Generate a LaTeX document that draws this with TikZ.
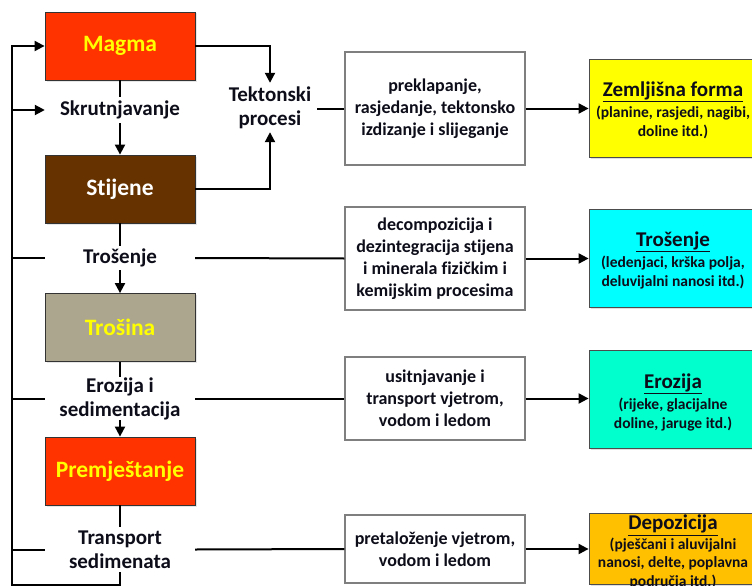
\documentclass[tikz,border=0pt]{standalone}
\usepackage{fontspec}
\setmainfont{Carlito}[Ligatures=NoCommon]
\usetikzlibrary{arrows.meta,shadows}
\definecolor{magmared}{HTML}{FF3300}
\definecolor{rockbrown}{HTML}{663300}
\definecolor{wastegray}{HTML}{ADA68F}
\definecolor{formyellow}{HTML}{FFFF00}
\definecolor{wearcyan}{HTML}{00FFFF}
\definecolor{erosiongreen}{HTML}{00FFCC}
\definecolor{depoamber}{HTML}{FFC000}
\definecolor{framegray}{HTML}{7F7F7F}
\definecolor{ink}{HTML}{0D0D1A}
\begin{document}
\begin{tikzpicture}[x=1pt,y=-1pt,
  stage/.style={draw=black!80,line width=0.8pt,minimum width=150pt,minimum height=68pt,inner sep=0pt,
    font=\fontsize{23.5}{28}\selectfont\bfseries,
    drop shadow={shadow xshift=1.5pt,shadow yshift=-1.5pt,opacity=0.2}},
  lbl/.style={minimum width=150pt,inner sep=0pt,align=center,text=ink,
    font=\fontsize{21}{24}\selectfont\bfseries},
  proc/.style={draw=framegray,line width=1.2pt,fill=white,minimum width=180pt,inner sep=0pt,
    align=center,text=ink,font=\fontsize{18}{22}\selectfont\bfseries},
  result/.style={draw=black!70,line width=0.8pt,minimum width=168pt,minimum height=98pt,inner sep=0pt,
    drop shadow={shadow xshift=2pt,shadow yshift=-2pt,opacity=0.25}},
  restext/.style={align=center,inner sep=0pt,text=ink,font=\fontsize{15.5}{18.5}\selectfont\bfseries},
  link/.style={line width=2pt},
  arr/.style={line width=2pt,-{Triangle[length=10pt,width=10pt]}}]
\useasboundingbox (0,0) rectangle (752,586);
\clip (0,0) rectangle (752,586);

\node[stage,fill=magmared,text=formyellow] (magma) at (120,46) {Magma};
\node[stage,fill=rockbrown,text=white] (stijene) at (120,189) {Stijene};
\node[stage,fill=wastegray,text=formyellow] (trosina) at (120,327.5) {Trošina};
\node[stage,fill=magmared,text=formyellow] (premjest) at (120,471) {Premještanje};

\node[lbl,minimum height=26pt] (skrut) at (120,110) {Skrutnjavanje};
\node[lbl,minimum height=24pt] (trosenje) at (120,258) {Trošenje};
\node[lbl,minimum height=43pt] (erozija) at (120,398.5) {Erozija i\\sedimentacija};
\node[lbl,minimum height=45pt] (transport) at (120,549.5) {Transport\\sedimenata};
\node[lbl,minimum width=0pt,inner xsep=6pt,minimum height=49pt] (tekt) at (270,107.5) {Tektonski\\procesi};

\node[proc,minimum height=113pt] (proc1) at (435,108.5) {preklapanje,\\rasjedanje, tektonsko\\izdizanje i slijeganje};
\node[proc,minimum height=103pt] (proc2) at (435,258.5) {decompozicija i\\dezintegracija stijena\\i minerala fizičkim i\\kemijskim procesima};
\node[proc,minimum height=83pt] (proc3) at (435,398.5) {usitnjavanje i\\transport vjetrom,\\vodom i ledom};
\node[proc,minimum height=68pt] (proc4) at (435,549) {pretaloženje vjetrom,\\vodom i ledom};

\node[result,fill=formyellow] (zforma) at (673,108) {};
\node[result,fill=wearcyan] (rtrosenje) at (673,258) {};
\node[result,fill=erosiongreen] (rerozija) at (673,399) {};
\node[result,fill=depoamber,minimum height=71pt] (rdepozicija) at (673,548.5) {};
\node[restext] (zformaT) at (673,110) {{\fontsize{21}{23}\selectfont\underline{Zemljišna forma}}\\[3pt](planine, rasjedi, nagibi,\\doline itd.)};
\node[restext] (rtrosenjeT) at (673,260) {{\fontsize{21}{23}\selectfont\underline{Trošenje}}\\[3pt](ledenjaci, krška polja,\\deluvijalni nanosi itd.)};
\node[restext] (rerozijaT) at (673,402) {{\fontsize{21}{23}\selectfont\underline{Erozija}}\\[3pt](rijeke, glacijalne\\doline, jaruge itd.)};
\node[restext] (rdepozicijaT) at (673,552) {{\fontsize{21}{23}\selectfont\underline{Depozicija}}\\[1pt](pješčani i aluvijalni\\nanosi, delte, poplavna\\područja itd.)};

\coordinate (corner) at (12,585);

\draw[link] (magma.south) -- (skrut.north);
\draw[arr] (skrut.south) -- (stijene.north);
\draw[link] (stijene.south) -- (trosenje.north);
\draw[arr] (trosenje.south) -- (trosina.north);
\draw[link] (trosina.south) -- (erozija.north);
\draw[arr] (erozija.south) -- (premjest.north);
\draw[link] (premjest.south) -- (transport.north);
\draw[arr] (transport.south) |- (corner) |- (magma.west);
\draw[arr] (corner |- skrut) -- (skrut.west);

\draw[arr] (magma.east) -| (tekt.north);
\draw[arr] (stijene.east) -| (tekt.south);
\draw[link] (tekt.east |- proc1.west) -- (proc1.west);

\draw[link] (corner |- trosenje) -- (trosenje.west);
\draw[link] (trosenje.east) -- (proc2.west);
\draw[link] (corner |- erozija) -- (erozija.west);
\draw[link] (erozija.east) -- (proc3.west);
\draw[link] (corner |- transport) -- (transport.west);
\draw[link] (transport.east) -- (proc4.west);

\draw[arr] (proc1.east) -- (proc1.east -| zforma.west);
\draw[arr] (proc2.east) -- (proc2.east -| rtrosenje.west);
\draw[arr] (proc3.east) -- (proc3.east -| rerozija.west);
\draw[arr] (proc4.east) -- (proc4.east -| rdepozicija.west);
\end{tikzpicture}
\end{document}
